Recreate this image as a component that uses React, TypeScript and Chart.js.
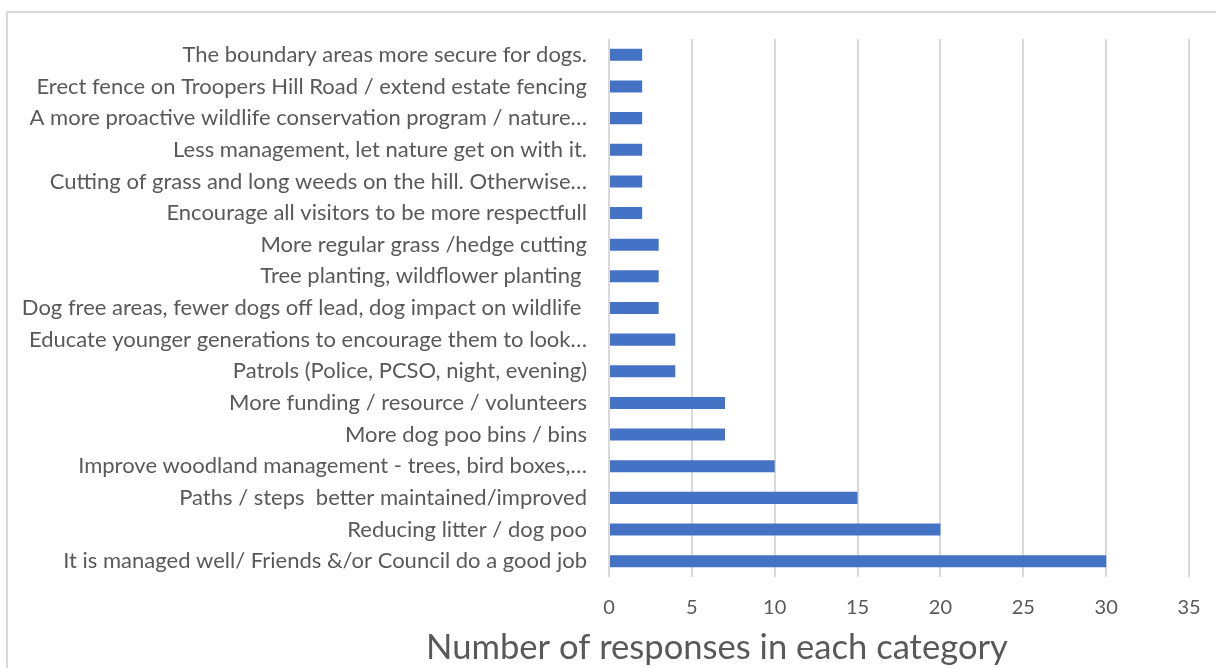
import React, { useEffect, useRef } from "react";
import { Chart, registerables } from "chart.js";

Chart.register(...registerables);

const categories: string[] = [
  "The boundary areas more secure for dogs.",
  "Erect fence on Troopers Hill Road / extend estate fencing",
  "A more proactive wildlife conservation program / nature…",
  "Less management, let nature get on with it.",
  "Cutting of grass and long weeds on the hill. Otherwise…",
  "Encourage all visitors to be more respectfull",
  "More regular grass /hedge cutting",
  "Tree planting, wildflower planting ",
  "Dog free areas, fewer dogs off lead, dog impact on wildlife ",
  "Educate younger generations to encourage them to look…",
  "Patrols (Police, PCSO, night, evening)",
  "More funding / resource / volunteers",
  "More dog poo bins / bins",
  "Improve woodland management - trees, bird boxes,…",
  "Paths / steps  better maintained/improved",
  "Reducing litter / dog poo",
  "It is managed well/ Friends &/or Council do a good job",
];

const responses: number[] = [2, 2, 2, 2, 2, 2, 3, 3, 3, 4, 4, 7, 7, 10, 15, 20, 30];

const xMin = 0;
const xMax = 35;
const xStep = 5;

const axisTitle = "Number of responses in each category";

const FONT = "Lato, 'Open Sans', sans-serif";
const TEXT = "#595959";

export default function App() {
  const ref = useRef<HTMLCanvasElement | null>(null);

  useEffect(() => {
    if (!ref.current) return;
    const chart = new Chart(ref.current, {
      type: "bar",
      data: {
        labels: categories,
        datasets: [
          {
            data: responses,
            backgroundColor: "#4472c4",
            borderWidth: 0,
            barPercentage: 0.76,
            categoryPercentage: 0.5,
          },
        ],
      },
      options: {
        indexAxis: "y",
        animation: false,
        responsive: false,
        maintainAspectRatio: false,
        layout: { padding: { top: 26, right: 0, left: 0, bottom: 0 } },
        plugins: {
          legend: { display: false },
          tooltip: { enabled: false },
          title: {
            display: true,
            text: axisTitle,
            position: "bottom",
            color: TEXT,
            font: { family: FONT, size: 34.6, weight: "normal" },
            padding: { top: 0, bottom: 4 },
          },
        },
        scales: {
          x: {
            min: xMin,
            max: xMax,
            ticks: {
              stepSize: xStep,
              color: TEXT,
              font: { family: FONT, size: 20 },
              padding: 19,
            },
            grid: { color: "#d9d9d9", lineWidth: 2, drawTicks: false },
            border: { display: false },
            afterFit: (s: any) => {
              s.height = 50.5;
              s.paddingLeft = 0;
              s.paddingRight = 237;
            },
          },
          y: {
            ticks: {
              color: TEXT,
              font: { family: FONT, size: 22 },
              padding: 22,
              autoSkip: false,
            },
            grid: { display: false, drawTicks: false },
            border: { display: false },
            afterFit: (s: any) => {
              s.width = 601;
              s.paddingTop = 0;
              s.paddingBottom = 0;
            },
          },
        },
      },
    });
    return () => chart.destroy();
  }, []);

  return (
    <div
      style={{
        position: "absolute",
        left: 0,
        top: 0,
        width: 1216,
        height: 668,
        overflow: "hidden",
        background: "#fff",
      }}
    >
      <div
        style={{
          position: "absolute",
          left: 6,
          top: 11,
          width: 1430,
          height: 700,
          border: "2px solid #d9d9d9",
          background: "#fff",
        }}
      >
        <canvas
          ref={ref}
          width={1418}
          height={660}
          style={{ position: "absolute", left: 0, top: 0, width: 1418, height: 660 }}
        />
      </div>
    </div>
  );
}
